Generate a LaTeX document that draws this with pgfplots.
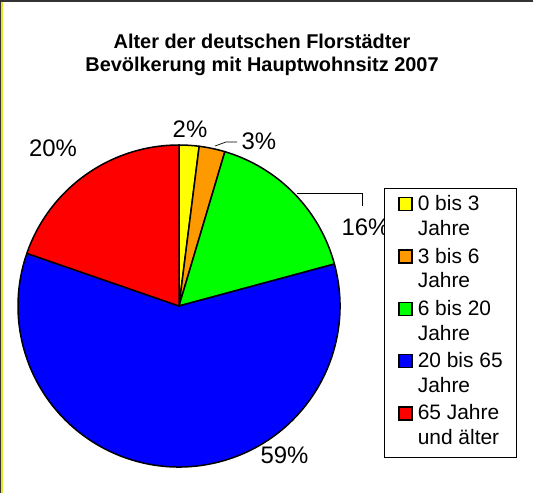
\documentclass[border=0pt]{standalone}
\usepackage{fontspec}
\setmainfont{Liberation Sans}
\usepackage{pgfplots}
\usepackage{pgfplotstable}
\pgfplotsset{compat=1.18}
\definecolor{pyel}{RGB}{255,255,0}
\definecolor{pora}{RGB}{255,153,0}
\definecolor{pgre}{RGB}{0,255,0}
\definecolor{pblu}{RGB}{0,0,255}
\definecolor{pred}{RGB}{255,0,0}
\definecolor{frameyel}{RGB}{230,230,40}

\pgfplotstableread{
share color
2.0 pyel
2.6 pora
16.2 pgre
59.5 pblu
19.7 pred
}\piedata

\begin{document}
\begin{tikzpicture}
\begin{axis}[
  scale only axis, width=533bp, height=493bp,
  xmin=0, xmax=533, ymin=0, ymax=493,
  hide axis, clip=false,
  legend style={at={(axis cs:384,305)}, anchor=north west, draw=black, line width=0.6bp,
     font=\fontsize{21}{25}\selectfont, inner xsep=14bp, inner ysep=5bp,
     row sep=2.5bp, column sep=5bp, cells={anchor=base west},
     nodes={inner sep=0pt, text depth={}}},
]
\fill[white] (axis cs:0,0) rectangle (axis cs:533,493);
\pgfplotsextra{
  \gdef\cum{90}
  \pgfplotsforeachungrouped \i in {0,...,4}{
    \pgfplotstablegetelem{\i}{share}\of\piedata \let\val\pgfplotsretval
    \pgfplotstablegetelem{\i}{color}\of\piedata \let\col\pgfplotsretval
    \pgfmathsetmacro\endang{\cum-3.6*\val}
    \filldraw[fill=\col, draw=black, line width=1.5bp, line join=round]
      (axis cs:179,187) -- (axis cs:{179+161*cos(\cum)},{187+161*sin(\cum)})
      arc[start angle=\cum, end angle=\endang, radius=161bp] -- cycle;
    \global\let\cum\endang
  }
}
% frame
\fill[black!80] (axis cs:0,491) rectangle (axis cs:533,493);
\fill[black!80] (axis cs:0,0) rectangle (axis cs:1,493);
\fill[frameyel] (axis cs:1,0) rectangle (axis cs:2.5,491);
% title
\node[align=center, anchor=base, font=\bfseries\fontsize{20}{24}\selectfont]
  at (axis cs:262,421) {Alter der deutschen Florstädter\\Bevölkerung mit Hauptwohnsitz 2007};
% leader lines
\draw[line width=0.7bp] (axis cs:215,347) -- (axis cs:226,351) -- (axis cs:237,351);
\draw[line width=0.7bp] (axis cs:297,300) -- (axis cs:362,300) -- (axis cs:362,287);
% labels
\node[anchor=base, font=\fontsize{24}{28}\selectfont] at (axis cs:53,336) {20\%};
\node[anchor=base, font=\fontsize{24}{28}\selectfont] at (axis cs:190,355) {2\%};
\node[anchor=base west, font=\fontsize{24}{28}\selectfont] at (axis cs:238,343) {3\%};
\node[anchor=base west, font=\fontsize{24}{28}\selectfont] at (axis cs:338,257) {16\%};
\node[anchor=base, font=\fontsize{24}{28}\selectfont] at (axis cs:284.5,30) {59\%};
% legend
\addlegendimage{legend image code/.code={\filldraw[fill=pyel, draw=black, line width=1.5bp] (0bp,0bp) rectangle (13bp,13bp);}}
\addlegendentry{\begin{tabular}[t]{@{}l@{}}0 bis 3\\Jahre\end{tabular}}
\addlegendimage{legend image code/.code={\filldraw[fill=pora, draw=black, line width=1.5bp] (0bp,0bp) rectangle (13bp,13bp);}}
\addlegendentry{\begin{tabular}[t]{@{}l@{}}3 bis 6\\Jahre\end{tabular}}
\addlegendimage{legend image code/.code={\filldraw[fill=pgre, draw=black, line width=1.5bp] (0bp,0bp) rectangle (13bp,13bp);}}
\addlegendentry{\begin{tabular}[t]{@{}l@{}}6 bis 20\\Jahre\end{tabular}}
\addlegendimage{legend image code/.code={\filldraw[fill=pblu, draw=black, line width=1.5bp] (0bp,0bp) rectangle (13bp,13bp);}}
\addlegendentry{\begin{tabular}[t]{@{}l@{}}20 bis 65\\Jahre\end{tabular}}
\addlegendimage{legend image code/.code={\filldraw[fill=pred, draw=black, line width=1.5bp] (0bp,0bp) rectangle (13bp,13bp);}}
\addlegendentry{\begin{tabular}[t]{@{}l@{}}65 Jahre\\und älter\end{tabular}}
\end{axis}
\end{tikzpicture}
\end{document}
